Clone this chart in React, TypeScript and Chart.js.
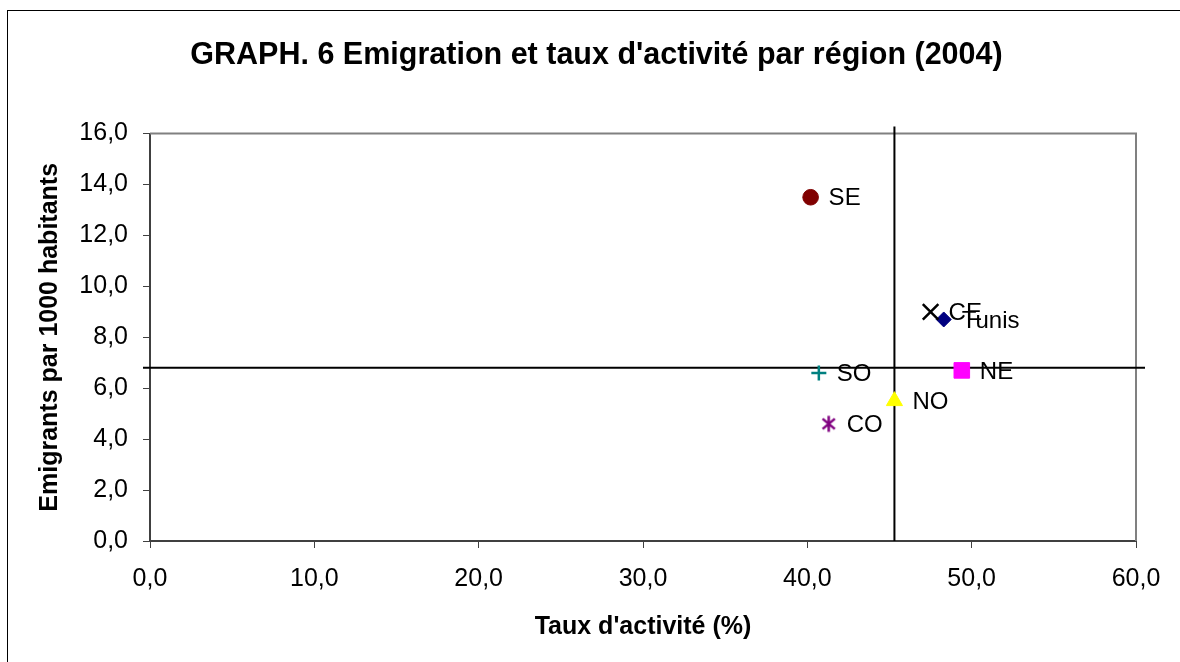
import React, { useEffect, useRef } from 'react';
import { Chart, registerables } from 'chart.js';

Chart.register(...registerables);

// ---- Data ----
const regions = ['SE', 'CE', 'Tunis', 'SO', 'NE', 'NO', 'CO'];
const activityRate = [40.2, 47.5, 48.3, 40.7, 49.4, 45.3, 41.3];
const emigrantsPer1000 = [13.5, 9.0, 8.7, 6.6, 6.7, 5.5, 4.6];
const referenceActivity = 45.3;
const referenceEmigrants = 6.8;

const xTicks = [0, 10, 20, 30, 40, 50, 60];
const yTicks = [0, 2, 4, 6, 8, 10, 12, 14, 16];

const titleText = "GRAPH. 6 Emigration et taux d'activité par région (2004)";
const xTitle = "Taux d'activité (%)";
const yTitle = 'Emigrants par 1000 habitants';

// ---- Styles ----
const markerStyles = [
  { pointStyle: 'circle', radius: 7.8, fill: '#800000', stroke: '#800000', width: 1 },
  { pointStyle: 'crossRot', radius: 11, fill: '#000000', stroke: '#000000', width: 2.5 },
  { pointStyle: 'rectRot', radius: 7.5, fill: '#000080', stroke: '#000080', width: 1 },
  { pointStyle: 'cross', radius: 7.5, fill: '#008080', stroke: '#008080', width: 2.5 },
  { pointStyle: 'rect', radius: 11, fill: '#FF00FF', stroke: '#FF00FF', width: 1 },
  { pointStyle: 'triangle', radius: 9.3, fill: '#FFFF00', stroke: '#FFFF00', width: 1 },
  { pointStyle: 'asterisk', radius: 8, fill: '#800080', stroke: '#800080', width: 2.5 },
];

const FONT = '"Liberation Sans", Arial, Helvetica, sans-serif';
const fmt = (v: number) => Number(v).toFixed(1).replace('.', ',');

function makeAsterisk(color: string, r: number, lw: number): HTMLCanvasElement {
  const size = Math.ceil(r * 2 + lw * 2);
  const c = document.createElement('canvas');
  c.width = size;
  c.height = size;
  const ctx = c.getContext('2d')!;
  const cx = size / 2;
  const cy = size / 2;
  ctx.strokeStyle = color;
  ctx.lineWidth = lw;
  ctx.beginPath();
  ctx.moveTo(cx, cy - r);
  ctx.lineTo(cx, cy + r);
  const a = (40 * Math.PI) / 180;
  const dx = Math.cos(a) * r;
  const dy = Math.sin(a) * r;
  ctx.moveTo(cx - dx, cy - dy);
  ctx.lineTo(cx + dx, cy + dy);
  ctx.moveTo(cx - dx, cy + dy);
  ctx.lineTo(cx + dx, cy - dy);
  ctx.stroke();
  return c;
}

export default function App() {
  const canvasRef = useRef<HTMLCanvasElement>(null);

  useEffect(() => {
    const canvas = canvasRef.current;
    if (!canvas) return;

    const decor = {
      id: 'decor',
      beforeDraw(chart: any) {
        const ctx = chart.ctx;
        ctx.save();
        ctx.fillStyle = '#ffffff';
        ctx.fillRect(0, 0, chart.width, chart.height);
        ctx.strokeStyle = '#000000';
        ctx.lineWidth = 1;
        ctx.strokeRect(7.5, 10.5, chart.width + 50, chart.height + 50);
        ctx.restore();
      },
      beforeDatasetsDraw(chart: any) {
        const ctx = chart.ctx;
        const { left, top, right, bottom } = chart.chartArea;
        const xs = chart.scales.x;
        const ys = chart.scales.y;
        ctx.save();
        ctx.strokeStyle = '#808080';
        ctx.lineWidth = 2;
        ctx.beginPath();
        ctx.moveTo(left, top);
        ctx.lineTo(right, top);
        ctx.lineTo(right, bottom);
        ctx.stroke();
        ctx.strokeStyle = '#000000';
        ctx.lineWidth = 2;
        const vx = xs.getPixelForValue(referenceActivity);
        const hy = ys.getPixelForValue(referenceEmigrants);
        ctx.beginPath();
        ctx.moveTo(vx, top - 7);
        ctx.lineTo(vx, bottom);
        ctx.moveTo(left - 7, hy);
        ctx.lineTo(right + 9, hy);
        ctx.stroke();
        ctx.restore();
      },
      afterDatasetsDraw(chart: any) {
        const ctx = chart.ctx;
        ctx.save();
        ctx.font = `24px ${FONT}`;
        ctx.fillStyle = '#000000';
        ctx.textAlign = 'left';
        ctx.textBaseline = 'middle';
        chart.data.datasets.forEach((ds: any, i: number) => {
          const meta = chart.getDatasetMeta(i);
          const el = meta.data[0];
          if (!el) return;
          ctx.fillText(ds.label, el.x + 18, el.y + 1.5);
        });
        ctx.restore();
      },
    };

    const datasets = regions.map((name, i) => {
      const m = markerStyles[i];
      const style = m.pointStyle === 'asterisk' ? makeAsterisk(m.stroke, m.radius, m.width) : m.pointStyle;
      return {
        label: name,
        data: [{ x: activityRate[i], y: emigrantsPer1000[i] }],
        pointStyle: style as any,
        pointRadius: m.radius,
        pointHoverRadius: m.radius,
        backgroundColor: m.fill,
        borderColor: m.stroke,
        pointBorderWidth: m.width,
        borderWidth: m.width,
        showLine: false,
        clip: false as any,
      };
    });

    const tickFont = { family: FONT, size: 25 };
    const titleFont = { family: FONT, size: 25, weight: 'bold' as const };

    const chart = new Chart(canvas, {
      type: 'scatter',
      data: { datasets },
      options: {
        animation: false,
        responsive: false,
        events: [],
        layout: { padding: { left: 57, right: 44, top: 0, bottom: 0 } },
        plugins: {
          legend: { display: false },
          tooltip: { enabled: false },
          title: {
            display: true,
            text: titleText,
            color: '#000000',
            font: { family: FONT, size: 30.5, weight: 'bold' },
            padding: { top: 37, bottom: 60 },
          },
        },
        scales: {
          x: {
            type: 'linear',
            min: 0,
            max: 60,
            afterBuildTicks: (s: any) => {
              s.ticks = xTicks.map((v) => ({ value: v }));
            },
            afterFit: (s: any) => {
              s.height = 121;
            },
            ticks: {
              callback: (v: any) => fmt(v),
              color: '#000000',
              font: tickFont,
              padding: 16,
              maxRotation: 0,
              autoSkip: false,
            },
            grid: {
              display: true,
              drawOnChartArea: false,
              drawTicks: true,
              tickLength: 7,
              color: '#404040',
              lineWidth: 1,
            },
            border: { display: true, color: '#404040', width: 2 },
            title: {
              display: true,
              text: xTitle,
              color: '#000000',
              font: titleFont,
              padding: { top: 0, bottom: 20 },
            },
          },
          y: {
            type: 'linear',
            min: 0,
            max: 16,
            afterBuildTicks: (s: any) => {
              s.ticks = yTicks.map((v) => ({ value: v }));
            },
            afterFit: (s: any) => {
              s.width = 93;
            },
            ticks: {
              callback: (v: any) => fmt(v),
              color: '#000000',
              font: tickFont,
              padding: 15,
              autoSkip: false,
            },
            grid: {
              display: true,
              drawOnChartArea: false,
              drawTicks: true,
              tickLength: 7,
              color: '#404040',
              lineWidth: 1,
            },
            border: { display: true, color: '#404040', width: 2 },
            title: {
              display: true,
              text: yTitle,
              color: '#000000',
              font: titleFont,
              padding: { top: -22, bottom: 0 },
            },
          },
        },
      },
      plugins: [decor],
    });

    return () => {
      chart.destroy();
    };
  }, []);

  return (
    <div style={{ position: 'absolute', left: 0, top: 0, width: 1180, height: 662, background: '#fff' }}>
      <canvas ref={canvasRef} width={1180} height={662} style={{ display: 'block', width: 1180, height: 662 }} />
    </div>
  );
}
